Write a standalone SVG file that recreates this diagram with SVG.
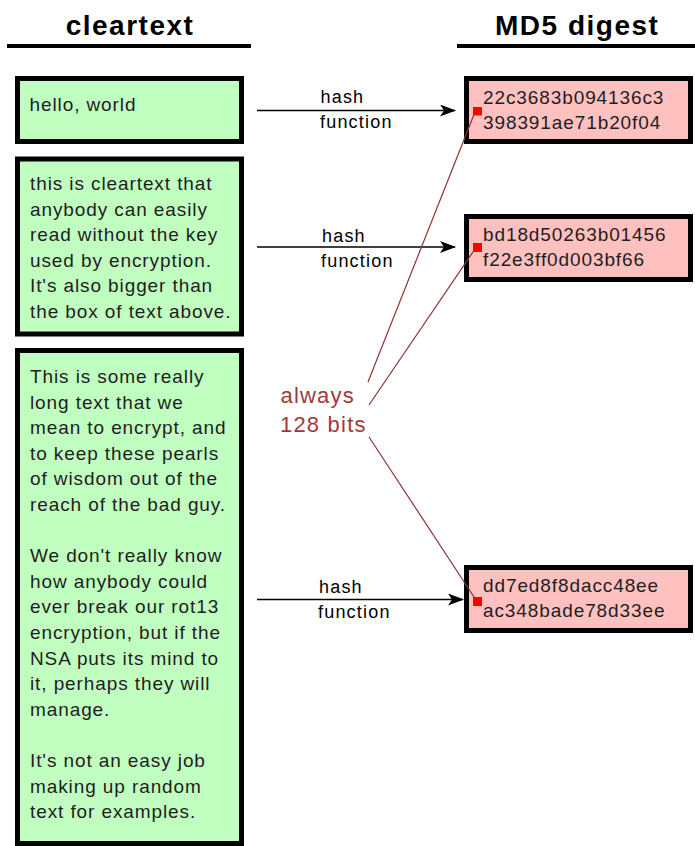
<svg xmlns="http://www.w3.org/2000/svg" width="695" height="846" viewBox="0 0 695 846">
<style>
.hdr{font-family:"Liberation Sans",Arial,sans-serif;font-weight:bold;font-size:28px;letter-spacing:1.5px;fill:#000}
.rule{stroke:#000;stroke-width:4}
.gbox{fill:#c0ffc0;stroke:#000;stroke-width:5}
.rbox{fill:#ffc0c0;stroke:#000;stroke-width:5}
.txt{font-family:"Liberation Sans",Arial,sans-serif;font-size:19px;letter-spacing:0.9px;fill:#1e1e1e}
.lbl{font-family:"Liberation Sans",Arial,sans-serif;font-size:18px;letter-spacing:1.2px;fill:#000}
.note{font-family:"Liberation Sans",Arial,sans-serif;font-size:22px;letter-spacing:1.2px;fill:#a03a3a}
.arrow{stroke:#000;stroke-width:1.5;fill:none;marker-end:url(#ah)}
.call{stroke:#8b3333;stroke-width:1.2;fill:none}
.dot{fill:#ff0000}
</style>
<defs>
<marker id="ah" markerWidth="16" markerHeight="12" refX="15" refY="6" orient="auto" markerUnits="userSpaceOnUse">
<path d="M0,0 L16,6 L0,12 L4,6 z" fill="#000"/>
</marker>
</defs>
<rect width="695" height="846" fill="#fff"/>

<g id="header-cleartext">
<text class="hdr" x="65.7" y="35">cleartext</text>
<line class="rule" x1="7" y1="46" x2="251" y2="46"/>
</g>
<g id="header-md5">
<text class="hdr" x="495" y="35">MD5 digest</text>
<line class="rule" x1="457" y1="46" x2="695" y2="46"/>
</g>

<g id="clear1">
<rect class="gbox" x="17.5" y="78.5" width="224" height="63"/>
<text class="txt" x="29.5" y="110.5">hello, world</text>
</g>

<g id="clear2">
<rect class="gbox" x="17.5" y="159" width="224" height="175"/>
<text class="txt" x="30">
<tspan x="30" y="190">this is cleartext that</tspan>
<tspan x="30" y="215.5">anybody can easily</tspan>
<tspan x="30" y="241">read without the key</tspan>
<tspan x="30" y="266.5">used by encryption.</tspan>
<tspan x="30" y="292">It's also bigger than</tspan>
<tspan x="30" y="317.5">the box of text above.</tspan>
</text>
</g>

<g id="clear3">
<rect class="gbox" x="17.5" y="350.5" width="224" height="493"/>
<text class="txt" x="30">
<tspan x="30" y="383">This is some really</tspan>
<tspan x="30" y="408.6">long text that we</tspan>
<tspan x="30" y="434.2">mean to encrypt, and</tspan>
<tspan x="30" y="459.8">to keep these pearls</tspan>
<tspan x="30" y="485.4">of wisdom out of the</tspan>
<tspan x="30" y="511">reach of the bad guy.</tspan>
<tspan x="30" y="562.2">We don't really know</tspan>
<tspan x="30" y="587.8">how anybody could</tspan>
<tspan x="30" y="613.4">ever break our rot13</tspan>
<tspan x="30" y="639">encryption, but if the</tspan>
<tspan x="30" y="664.6">NSA puts its mind to</tspan>
<tspan x="30" y="690.2">it, perhaps they will</tspan>
<tspan x="30" y="715.8">manage.</tspan>
<tspan x="30" y="767">It's not an easy job</tspan>
<tspan x="30" y="792.6">making up random</tspan>
<tspan x="30" y="818.2">text for examples.</tspan>
</text>
</g>

<g id="digest1">
<rect class="rbox" x="466.5" y="78.5" width="224" height="63"/>
<text class="txt" x="483">
<tspan x="483" y="103.5">22c3683b094136c3</tspan>
<tspan x="483" y="128.5">398391ae71b20f04</tspan>
</text>
</g>

<g id="digest2">
<rect class="rbox" x="466.5" y="216.5" width="224" height="63"/>
<text class="txt" x="483">
<tspan x="483" y="240.5">bd18d50263b01456</tspan>
<tspan x="483" y="265.5">f22e3ff0d003bf66</tspan>
</text>
</g>

<g id="digest3">
<rect class="rbox" x="466.5" y="567.5" width="224" height="63"/>
<text class="txt" x="483">
<tspan x="483" y="592">dd7ed8f8dacc48ee</tspan>
<tspan x="483" y="617">ac348bade78d33ee</tspan>
</text>
</g>

<g id="note-128">
<text class="note" x="280.5" y="403">always</text>
<text class="note" x="280" y="431.5">128 bits</text>
</g>

<g id="connectors">
<line class="arrow" x1="257" y1="110.5" x2="455" y2="110.5"/>
<line class="arrow" x1="257" y1="247" x2="455" y2="247"/>
<line class="arrow" x1="257" y1="599.5" x2="463" y2="599.5"/>
<text class="lbl" x="320.5" y="103">hash</text>
<text class="lbl" x="320" y="128">function</text>
<text class="lbl" x="322" y="242">hash</text>
<text class="lbl" x="321" y="267">function</text>
<text class="lbl" x="319" y="593">hash</text>
<text class="lbl" x="318" y="618">function</text>
<line class="call" x1="368" y1="382" x2="475" y2="112"/>
<line class="call" x1="369" y1="405" x2="475" y2="249"/>
<line class="call" x1="369" y1="437" x2="476" y2="600"/>
<rect class="dot" x="473" y="107" width="9" height="8.5"/>
<rect class="dot" x="473" y="243" width="9" height="9"/>
<rect class="dot" x="473" y="597" width="9" height="9"/>
</g>
</svg>
